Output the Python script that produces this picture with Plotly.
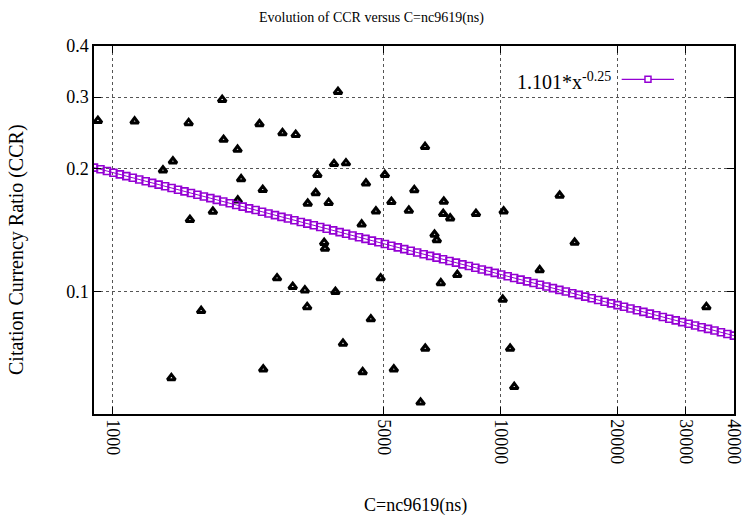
import numpy as np
import plotly.graph_objects as go

# ---- data ----
c_values = [916, 1139, 1570, 1916, 2391, 2741, 2965, 1932, 2099, 1430,
            1348, 2144, 2438, 2102, 3184, 1813, 1582, 3811, 6391, 3722,
            3996, 3372, 5035, 4500, 5996, 3339, 3606, 5233, 7144, 4774,
            5805, 7119, 7420, 8647, 10192, 4386, 6761, 6854, 14216, 2654,
            2913, 3131, 3174, 1691, 2445, 1417, 3511, 3528, 3753, 4909,
            4632, 7018, 7740, 10137, 3926, 6399, 10592, 4412, 5309, 10852,
            6223, 15536, 12625, 33970]
ccr_values = [0.2625, 0.2615, 0.2591, 0.2955, 0.2576, 0.2448, 0.2425, 0.2358, 0.2229, 0.2087,
              0.1983, 0.1887, 0.1776, 0.1673, 0.1643, 0.1571, 0.1499, 0.3091, 0.2264, 0.2056,
              0.2065, 0.1933, 0.1933, 0.1842, 0.1774, 0.1744, 0.1651, 0.1660, 0.1662, 0.1573,
              0.1580, 0.1551, 0.1512, 0.1551, 0.1573, 0.1461, 0.1379, 0.1337, 0.1719, 0.1078,
              0.1027, 0.1007, 0.0916, 0.0896, 0.0644, 0.0613, 0.1317, 0.1274, 0.0998, 0.1078,
              0.0855, 0.1048, 0.1098, 0.0955, 0.0745, 0.0724, 0.0724, 0.0634, 0.0644, 0.0583,
              0.0534, 0.1318, 0.1128, 0.0916]

# fitted power law shown in the legend: 1.101*x^-0.25
FIT_COEF = 1.101
FIT_EXP = -0.25
FIT_SAMPLES = 100

x_tick_vals = [1000, 5000, 10000, 20000, 30000, 40000]
x_tick_text = ["1000", "5000", "10000", "20000", "30000", "40000"]
y_tick_vals = [0.1, 0.2, 0.3, 0.4]
y_tick_text = ["0.1", "0.2", "0.3", "0.4"]

X_MIN, X_MAX = 895, 40000
Y_MIN, Y_MAX = 0.05, 0.4
EDGE_PAD = 0.0003  # keeps the end ticks inside the axis range

fit_x = np.logspace(np.log10(X_MIN), np.log10(X_MAX), FIT_SAMPLES)
fit_y = FIT_COEF * fit_x ** FIT_EXP

PURPLE = "#9400D3"
SERIF = "Liberation Serif, Times New Roman, serif"

fig = go.Figure()
fig.add_trace(go.Scatter(
    x=c_values, y=ccr_values, mode="markers", showlegend=False,
    marker=dict(symbol="triangle-up-open", size=7, color="black",
                line=dict(color="black", width=3)),
))
fig.add_trace(go.Scatter(
    x=fit_x, y=fit_y, mode="lines+markers", showlegend=False,
    line=dict(color=PURPLE, width=1),
    marker=dict(symbol="square-open", size=7, color=PURPLE,
                line=dict(color=PURPLE, width=1.6)),
))

axis_common = dict(
    type="log", showline=True, linecolor="black", linewidth=1.5, mirror="ticks",
    ticks="inside", ticklen=7, tickcolor="black", tickwidth=1.2,
    showgrid=True, gridcolor="#555555", gridwidth=1, griddash="dot",
    zeroline=False, automargin=False, ticklabeloverflow="allow",
    tickfont=dict(family=SERIF, size=18, color="black"),
)

fig.update_layout(
    width=743, height=521,
    margin=dict(l=94, r=9, t=46, b=107, autoexpand=False),
    paper_bgcolor="white", plot_bgcolor="white",
    title=dict(text="Evolution of CCR versus C=nc9619(ns)", x=0.5, xanchor="center",
               y=0.967, yanchor="middle",
               font=dict(family=SERIF, size=14, color="black")),
    xaxis=dict(axis_common, range=[np.log10(X_MIN), np.log10(X_MAX) + EDGE_PAD],
               tickvals=x_tick_vals, ticktext=x_tick_text, tickangle=90),
    yaxis=dict(axis_common, range=[np.log10(Y_MIN), np.log10(Y_MAX) + EDGE_PAD],
               tickvals=y_tick_vals, ticktext=y_tick_text),
    showlegend=False,
)

# axis titles
fig.add_annotation(text="C=nc9619(ns)", xref="paper", yref="paper", x=0.5016, y=-0.2473,
                   showarrow=False, xanchor="center", yanchor="middle",
                   font=dict(family=SERIF, size=18, color="black"))
fig.add_annotation(text="Citation Currency Ratio (CCR)", xref="paper", yref="paper",
                   x=-0.1203, y=0.4457, textangle=-90, showarrow=False,
                   xanchor="center", yanchor="middle",
                   font=dict(family=SERIF, size=20, color="black"))

# legend (gnuplot style: text then sample)
fig.add_annotation(text=f"{FIT_COEF}*x<sup>{FIT_EXP}</sup>", xref="paper", yref="paper",
                   x=0.811, y=0.905, showarrow=False, xanchor="right", yanchor="middle",
                   font=dict(family=SERIF, size=20, color="black"))
fig.add_shape(type="line", xref="paper", yref="paper", x0=0.8245, x1=0.9062,
              y0=0.9095, y1=0.9095, line=dict(color=PURPLE, width=1.2))
fig.add_shape(type="rect", xref="paper", yref="paper", x0=0.8609, x1=0.8703,
              y0=0.9013, y1=0.9177, line=dict(color=PURPLE, width=1.5), fillcolor="white")

fig.write_html("out.html", config={"displayModeBar": False},
               post_script="document.body.style.margin='0';document.body.style.overflow='hidden';")
